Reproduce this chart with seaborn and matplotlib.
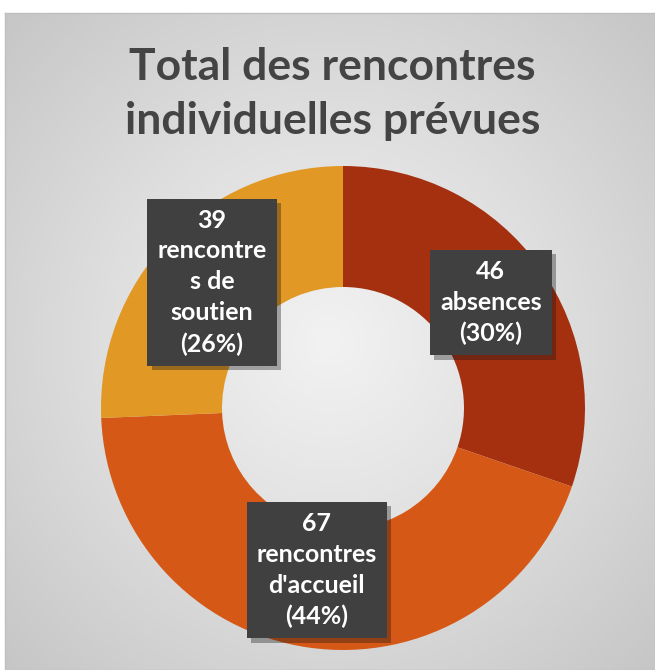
import numpy as np
import matplotlib
matplotlib.use("Agg")
import matplotlib.pyplot as plt
import matplotlib.patheffects as pe
import seaborn as sns

# data
categories = ["absences", "rencontres d'accueil", "rencontres de soutien"]
values = [46, 67, 39]
label_texts = ["46\nabsences\n(30%)", "67\nrencontres\nd'accueil\n(44%)",
               "39\nrencontre\ns de\nsoutien\n(26%)"]
title = "Total des rencontres\nindividuelles prévues"

sns.set_theme(style="white")
plt.rcParams['font.family'] = ['Lato', 'DejaVu Sans']

colors = sns.color_palette(["#A5300F", "#D55816", "#E19825"])

W, H = 655, 670
fig = plt.figure(figsize=(W / 100, H / 100), dpi=100)
fig.patch.set_facecolor("white")

# gray radial gradient panel
bg = fig.add_axes([5 / W, 0, (W - 5) / W, (H - 13) / H])
yy, xx = np.mgrid[-1:1:300j, -1:1:300j]
rr = np.sqrt(xx ** 2 + yy ** 2) / np.sqrt(2)
bg.imshow(rr, cmap=matplotlib.colors.LinearSegmentedColormap.from_list(
    "g", ["#f2f2f2", "#dedede", "#c6c6c6"]), extent=[0, 1, 0, 1],
    aspect="auto", origin="lower")
bg.set_xticks([])
bg.set_yticks([])
for s in bg.spines.values():
    s.set_color("#bfbfbf")
    s.set_linewidth(1)

fig.text(0.508, 1 - 94 / H, title, ha="center", va="center",
         fontsize=32, fontweight="bold", color="#444444", linespacing=1.45)

# donut
R = 242
cx, cy = 343, 408
ax = fig.add_axes([(cx - R) / W, (H - cy - R) / H, 2 * R / W, 2 * R / H])
ax.set_facecolor("none")
wedges, _ = ax.pie(values, colors=colors, startangle=90, counterclock=False,
                   wedgeprops=dict(width=0.5, edgecolor="none"))
ax.set_xlim(-1, 1)
ax.set_ylim(-1, 1)
ax.set_aspect("auto")

for w, txt in zip(wedges, label_texts):
    ang = np.deg2rad((w.theta1 + w.theta2) / 2)
    x, y = 0.75 * np.cos(ang), 0.75 * np.sin(ang)
    y = max(y, -0.67)  # keep label inside the chart area
    t = ax.text(x, y, txt, ha="center", va="center", color="white",
                fontsize=18, fontweight="bold", linespacing=1.42,
                bbox=dict(boxstyle="square,pad=0.4", fc="#404040", ec="none"))
    t.get_bbox_patch().set_path_effects(
        [pe.SimplePatchShadow(offset=(3, -3), alpha=0.35), pe.Normal()])

fig.savefig("out.png", dpi=100, facecolor=fig.get_facecolor())
